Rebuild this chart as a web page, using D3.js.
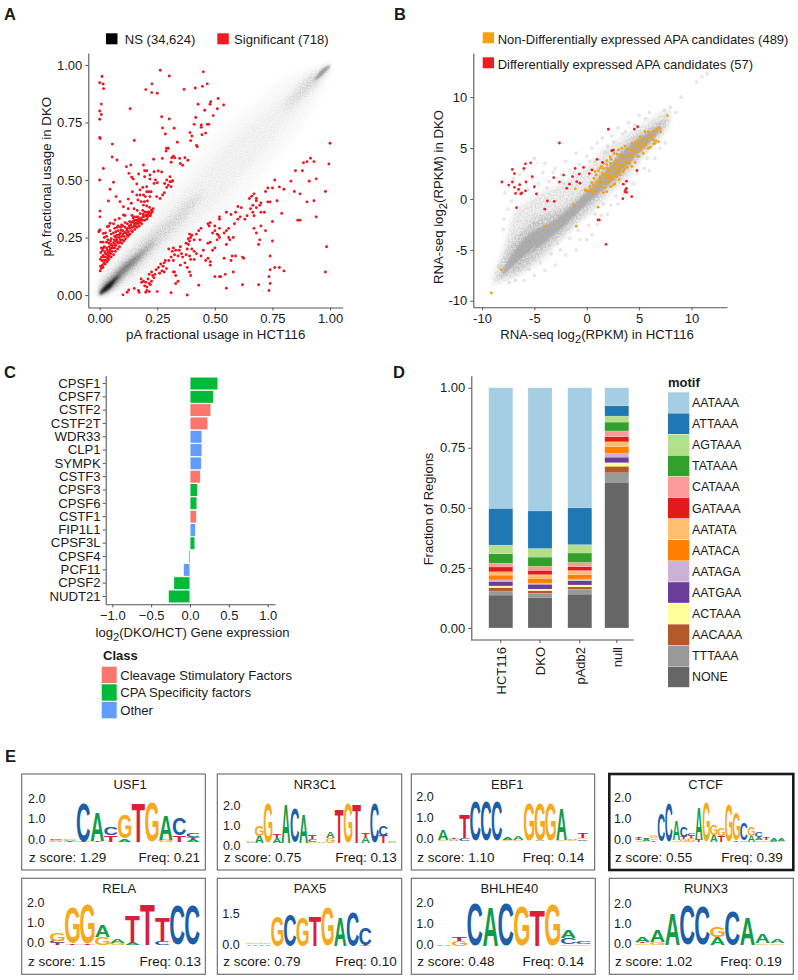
<!DOCTYPE html>
<html><head><meta charset="utf-8">
<script src="https://cdn.jsdelivr.net/npm/d3@7"></script>
<style>
html,body{margin:0;padding:0;background:#fff}
svg{display:block}
text{font-family:"Liberation Sans",Arial,sans-serif;fill:#1a1a1a}
</style></head><body>
<svg id="fig" width="798" height="980"></svg>
<script>
// ---------- DATA ----------
const aLegend = ["NS (34,624)", "Significant (718)"];
const aTicks = [0, .25, .5, .75, 1];
// density of non-significant sites, read as [x, lower y, upper y]
const aDensityOuter = [[0,0,.11],[.1,.01,.23],[.2,.06,.34],[.3,.14,.46],[.4,.22,.57],[.5,.31,.69],[.6,.4,.78],[.7,.51,.86],[.8,.64,.94],[.9,.76,.98],[1,.97,1]];
const aDensityMid = [[0,0,.08],[.1,.05,.18],[.2,.12,.28],[.3,.21,.38],[.4,.3,.49],[.5,.39,.6],[.6,.5,.7],[.7,.61,.78],[.8,.73,.87],[.9,.85,.95],[1,.98,1]];
const aDensityInner = [[0,0,.05],[.05,.02,.1],[.1,.06,.15],[.15,.1,.2],[.2,.16,.25],[.3,.26,.33],[.4,.37,.42],[.45,.44,.45]];
const aDensityCore = [[0,0,.02],[.02,.01,.045],[.05,.03,.075],[.08,.06,.105],[.1,.085,.125],[.15,.135,.165],[.2,.19,.205],[.24,.235,.24]];
const aDensityDark = [[0,0,.012],[.02,.012,.035],[.05,.035,.06],[.07,.065,.075],[.085,.083,.087]];
const aDensityTop = [[.8,.8,.81],[.85,.84,.88],[.9,.88,.94],[.95,.93,.97],[.98,.97,.995],[1,.995,1]];
const aDensityTopDark = [[.93,.93,.935],[.97,.96,.985],[1,.99,1]];
const aSignificant = [
[0,.923],[.01,.95],[.015,.917],[.017,.897],[.007,.83],[0,.8],[.007,.785],[0,.764],[0,.685],[.002,.68],[.132,.81],[.15,.672],[.055,.656],[.054,.6],[.075,.587],[.016,.55],[0,.5],[.06,.49],[.045,.46],
[.263,.977],[.302,.952],[.45,.97],[.227,.918],[.2,.893],[.226,.88],[.25,.877],[.366,.894],[.415,.9],[.446,.907],[.467,.918],
[.427,.829],[.514,.854],[.482,.84],[.479,.829],[.538,.826],[.511,.81],[.456,.803],[.417,.772],[.493,.78],[.269,.775],[.302,.765],[.273,.726],[.323,.725],[.285,.7],[.41,.742],[.441,.739],[.441,.729],[.467,.742],[.474,.742],[.46,.704],[.444,.697],[.392,.706],[.4,.691],[.395,.671],[.42,.65],[.424,.645],
[.337,.664],[.29,.638],[.298,.638],[.288,.626],[.272,.594],[.234,.59],[.32,.604],[.313,.597],[.326,.597],[.347,.594],[.37,.597],[.383,.586],[.35,.572],[.36,.564],[.31,.577],
[.116,.558],[.135,.565],[.19,.565],[.195,.54],[.204,.54],[.218,.522],[.236,.536],[.254,.539],[.269,.535],[.127,.529],[.139,.512],[.146,.504],[.169,.526],[.195,.514],[.218,.504],[.242,.5],[.236,.485],[.25,.488],[.305,.514],[.291,.5],[.282,.485],[.305,.493],[.312,.493],[.317,.497],[.298,.478],[.291,.468],[.31,.471],
[.161,.483],[.175,.457],[.187,.468],[.204,.471],[.204,.449],[.214,.449],[.223,.449],[.281,.445],[.273,.435],[.142,.449],[.161,.435],[.175,.435],[.19,.435],[.198,.428],[.218,.428],[.247,.428],[.262,.42],[.071,.428],[.038,.409],[.088,.406],[.124,.417],[.166,.413],[.18,.406],[.194,.406],[.207,.409],[.137,.399],[.103,.384],[.001,.365],[.001,.34],
[.19,.391],[.204,.387],[.216,.381],[.187,.368],[.195,.361],[.211,.361],[.226,.368],[.232,.375],[.163,.368],[.175,.354],[.149,.375],[.124,.375],[.11,.346],[.14,.346],[.15,.339],[.166,.339],[.19,.346],[.204,.346],[.222,.354],[.228,.361],
[.103,.348],[.067,.326],[.085,.333],[.045,.312],[.001,.283],[-.004,.275],[.033,.297],[.016,.268],
[.002,.105],[.004,.125],[.006,.115],[.012,.13],[.018,.14],[.01,.15],[.02,.15],[.003,.155],[.028,.15],[.025,.165],[.035,.16],[.042,.17],[.03,.178],[.015,.172],[.005,.185],[.012,.195],[.022,.188],[.038,.185],[.048,.18],[.055,.19],[.045,.198],[.03,.205],[.02,.21],[.058,.205],[.065,.205],[.07,.215],[.05,.22],[.04,.225],[.06,.228],[.08,.225],[.075,.24],[.068,.235],[.09,.24],[.085,.25],[.05,.245],[.065,.255],[.075,.26],[.095,.255],[.105,.255],[.1,.265],[.09,.27],[.08,.28],[.07,.275],[.06,.27],[.05,.265],[.045,.28],[.1,.28],[.115,.27],[.125,.275],[.12,.29],[.11,.295],[.1,.3],[.13,.29],[.14,.295],[.135,.305],[.15,.31],[.145,.32],[.155,.3],[.165,.31],[.16,.325],[.17,.33],[.175,.315],[.18,.335],[.19,.34],[.185,.325],[.2,.345],[.21,.35],[.22,.345],[.215,.36],[.2,.36],[.225,.37],[.16,.34],[.145,.335],[.13,.32],[.12,.31],[.11,.315],[.09,.295],[.08,.3],[.065,.29],[.035,.24],[.02,.25],[.03,.255],[.015,.23],[.005,.23],[.025,.27],[.04,.3],[.06,.31],[0,.28],
[.055,.215],[.063,.24],[.072,.25],[.085,.262],[.093,.282],[.108,.272],[.118,.282],[.128,.3],[.138,.315],[.152,.325],[.042,.21],[.033,.195],[.025,.18],[.047,.235],[.03,.23],[.008,.165],[.016,.205],[.007,.205],[.095,.305],[.075,.295],
[.014,.12],[.024,.135],[.033,.145],[.04,.155],[.05,.165],[.06,.175],[.068,.19],[.078,.2],[.086,.21],[.096,.225],[.105,.235],[.112,.245],[.122,.255],[.132,.265],[.142,.275],[.152,.285],[.162,.295],[.172,.3],[.182,.31],[.195,.325],[.205,.33],[.088,.23],[.098,.24],[.118,.262],[.128,.262],[.138,.28],[.148,.298],[.158,.312],[.168,.32],[.178,.325],[.188,.352],[.208,.34],[.018,.165],[.036,.172],[.044,.188],[.052,.205],[.066,.22],[.076,.232],
[.101,.001],[.119,.012],[.126,.022],[.15,.029],[.168,.02],[.171,.012],
[.18,.07],[.182,.055],[.19,.06],[.195,.04],[.2,.055],[.205,.035],[.21,.07],[.215,.05],[.22,.045],[.225,.06],[.23,.085],[.235,.075],[.24,.09],[.215,.09],[.205,.02],[.2,.012],[.215,.015],[.25,.015],
[.225,.1],[.245,.11],[.255,.12],[.26,.095],[.265,.135],[.27,.105],[.275,.125],[.28,.14],[.285,.15],[.28,.1],[.29,.115],[.3,.15],[.3,.2],[.315,.19],[.32,.205],[.31,.165],[.32,.15],[.325,.175],[.34,.17],[.345,.195],[.35,.21],[.33,.195],[.355,.18],[.36,.165],[.37,.14],[.38,.12],[.39,.1],[.395,.085],[.35,.13],[.32,.1],[.325,.1],[.33,.085],[.34,.06],[.33,.05],[.31,.01],[.38,0],[.43,.043],
[.375,.175],[.38,.2],[.385,.22],[.39,.235],[.395,.25],[.4,.26],[.41,.24],[.4,.2],[.41,.19],[.42,.18],[.395,.155],[.41,.155],[.39,.17],[.375,.225],[.385,.245],[.39,.265],[.42,.265],[.43,.28],[.44,.29],[.435,.24],[.44,.17],[.45,.195],[.475,.3],[.47,.31],[.48,.315],[.5,.3],[.5,.28],[.49,.27],[.52,.29],[.51,.265],[.515,.26],[.52,.25],[.51,.24],[.48,.23],[.47,.225],[.49,.195],[.5,.205],[.47,.16],[.46,.15],[.48,.145],[.48,.13],[.5,.08],[.52,.08],[.525,.08],[.545,.09],[.55,.03],[.62,.045],[.52,.33],[.52,.34],[.55,.36],[.56,.29],[.55,.22],[.56,.25],[.565,.24],[.54,.27],[.55,.28],[.58,.25],[.54,.16],[.57,.15],[.575,.17],[.59,.17],[.58,.1],[.62,.165],[.625,.16],
[.57,.35],[.59,.36],[.585,.31],[.6,.33],[.61,.34],[.6,.385],[.615,.38],[.63,.33],[.64,.345],[.655,.375],[.65,.42],[.66,.43],[.67,.44],[.68,.41],[.68,.42],[.665,.39],[.665,.36],[.67,.345],[.68,.38],[.695,.39],[.7,.4],[.7,.36],[.715,.36],[.73,.405],[.74,.405],[.72,.45],[.73,.465],[.75,.465],[.76,.5],[.78,.47],[.8,.46],[.77,.41],[.79,.355],[.75,.32],[.7,.3],[.72,.28],[.67,.29],[.68,.27],[.69,.22],[.695,.24],[.75,.235],[.74,.17],[.76,.12],[.78,.12],[.8,.105],[.74,.11],[.735,.08],[.74,.05],[.735,.02],[.69,.045],
[.83,.495],[.845,.45],[.85,.54],[.87,.44],[.88,.54],[.885,.575],[.9,.58],[.915,.595],[.93,.58],[.91,.495],[.94,.505],[.93,.41],[.9,.405],[.86,.325],[.87,.325],[.94,.34],[.98,.45],[.985,.21],[.98,.1],[.995,.57],[1,.66]
];

const bLegend = ["Non-Differentially expressed APA candidates (489)", "Differentially expressed APA candidates (57)"];
const bTicks = [-10, -5, 0, 5, 10];
const bDensityOuter = [[-9,-8.6,-7.6],[-8,-8,-5],[-7,-7.8,-1.5],[-6,-7.2,-.5],[-5,-6.5,.3],[-4,-5.8,.8],[-3,-4.6,1.2],[-2,-3.6,1.8],[-1,-2.6,2.5],[0,-1.8,3.2],[1,-.8,4.2],[2,.2,5.2],[3,1.2,5.8],[4,2.2,6.5],[5,3.5,7.2],[6,4.8,7.8],[7,6,8.4],[8,7.6,9]];
const bDensityMid = [[-8.5,-8.1,-7.6],[-8,-7.7,-6],[-7,-7.3,-4],[-6,-6.8,-3],[-5,-6,-2],[-4,-5,-1.6],[-3,-4.1,-1.2],[-2,-3.2,-.7],[-1,-2.1,.1],[0,-1.1,1],[1,-.1,2.3],[2,.9,3.6],[3,1.8,4.6],[4,3,5.6],[5,4.1,6.4],[6,5.2,7],[7,6.4,7.6],[7.7,7.4,8]];
const bDensityCore = [[-8,-7.4,-7],[-7,-6.6,-5.2],[-6,-5.7,-3.9],[-5,-5,-3.1],[-4,-4.3,-2.6],[-3,-3.4,-2],[-2,-2.5,-1.2],[-1,-1.5,-.3],[0,-.5,.7],[1,.4,1.8],[2,1.3,3],[3,2.2,4.2],[4,3.4,5.2],[5,4.5,6],[6,5.5,6.6],[7,6.7,7.3]];
const bStreaks = [[[-7.6,-7.2],[-4.9,-4.6]],[[-7,-7.2],[-4.6,-4.9]],[[-6.6,-7.2],[-4.4,-5.1]]];
const bFaint = [[-8,-3],[-7.5,-1],[-7.8,.6],[-7.9,-2],[-7,2],[-6.4,2.4],[-6,2.8],[-5,4],[-5.6,.9],[-4.6,1.5],[-4.2,2.6],[-4,3.5],[-3.6,1.7],[-3.2,2.6],[-3,3],[-2.4,2.4],[-2,3.7],[-1.6,2.8],[-1,4.5],[-.7,3.4],[0,4.2],[.3,3.7],[.5,5],[1,5.5],[1.5,6],[2,5.2],[2.4,6.2],[3,7],[3.4,6.4],[4,7.5],[5,8.2],[6,8.5],[7.4,8.7],[8,9],[8.5,8.5],[9,10],[10.5,11.5],[11,12],[11.5,12.3],[-6,-8],[-5,-7.5],[-4,-7],[-3,-6.5],[-2.5,-5],[-2,-5.5],[-1,-5],[-.6,-4],[0,-4],[.5,-3.5],[1,-2.5],[1.4,-1.6],[2,-1.5],[2.3,-.6],[3,-.5],[3.5,.5],[4,.6],[4.5,1.5],[5.5,3],[6,2.8],[6.5,4],[7.5,5.5],[-8.4,-6.6],[-7.4,-8.2],[-6.8,-8],[-5.5,-6.9],[-4.4,-6.3],[-3.4,-5.4],[-2.8,-4.4],[-1.6,-3.9],[-.8,-3.1],[.2,-2.6],[.8,-1.5],[1.6,-.5],[2.8,.3],[3.8,1.7],[4.8,2.5],[5.8,4],[7,5],[-7.2,-.2],[-6.6,.8],[-5.2,2],[-3.8,1.1],[-2.2,1.5],[-1.2,2.6],[.8,3.7],[1.8,4.6],[2.6,5.6],[3.7,6.6],[4.6,7.3],[5.6,7.9]];
const bOrange = [[-9.1,-9.23],[-8.15,-6.94],[-3.9,-2.65],[-1,-2.68],[1.1,-.8],[-1.3,-.5],[-1.08,1],[7.7,8.18],
[-.16,.88],[0,.82],[.16,.72],[.32,1.21],[.48,1.6],[.7,2.03],[.89,2.36],[1.11,2.78],[1.27,3.01],[1.59,3.5],[1.91,3.76],[2.23,4.16],[2.61,4.48],[3.03,4.81],[3.34,4.98],[3.66,5.2],[4.3,5.47],[4.94,5.79],[5.57,6.61],[5.89,6.61],[6.37,6.61],[6.05,6.28],[6.53,5.47],[6.85,5.63],[5.89,4.98],[5.41,4.48],[4.94,4.16],[4.62,3.57],[4.3,3.18],[3.5,2.68],[3.18,2.36],[2.87,2.19],[2.55,1.37],[1.91,.72],[1.59,.62],[.96,.72],[.57,.56],
[.32,.88],[1.27,2.03],[1.59,2.52],[1.91,2.36],[2.07,2.03],[2.23,2.85],[2.61,3.01],[3.03,2.85],[3.34,3.34],[3.66,3.83],[3.98,4.32],[4.46,4.81],[4.94,5.14],[5.25,5.47],[5.41,5.96],[5.1,6.12],[4.62,5.3],[4.14,4.81],[3.5,4.16],[3.18,3.83],[2.71,3.5],[2.29,3.5],[1.91,3.01],[1.59,3.01],[1.27,2.19],[.96,1.7],[.64,1.37],[.96,1.21],[1.43,1.21],[1.75,1.6],[2.07,1.7],[2.39,2.19],[2.71,2.52],[3.18,3.01],[3.5,3.18],[3.82,3.5],[4.14,3.83],[4.3,4.16],[4.78,4.65],[5.1,4.81],[5.41,5.14],[5.73,5.63],[5.89,5.96],[6.21,6.12],[6.69,6.84],[7.01,6.94],[7.07,6.61],[6.37,5.79],
[2,2.4],[2.2,2.2],[2.1,2.7],[2.4,1.9],[1.8,2.1],[1.5,2.4],[1.3,1.7],[2.9,2.6],[3,3.3],[2.5,3.2],[2.8,3.8],[3.2,4.3],[3.9,3.1],[3.6,2.9],[3.1,1.9],[2.7,1.5],[5.2,5],[5.6,5.3],[6.1,5.1],[6.4,5.4],[6.6,5.7],[4.4,4.4],[4.1,3.5],[3.9,4.9],[4.7,5.6],[.4,.9],[.7,.8],[1.1,1.5],[1.7,1.1],[2.3,1.2],[2.3,3.9],[1.9,3.4],[1.4,3.2],[.8,2.7],[2.9,4.4]];
const bRed = [[-8.1,1.67],[-7.1,2.9],[-6.9,2.5],[-7.1,1.67],[-7.45,1.37],[-6.9,1.15],[-6.5,.95],[-6.8,.55],[-6.3,.5],[-6.2,.6],[-5.85,.8],[-6.4,1.4],[-5.8,1.67],[-5,1.2],[-5.2,2.2],[-6,3],[-5.85,3.45],[-5.35,3.55],[-4.8,.5],[-6.7,-.85],[-3.75,-.2],[-3.1,-.23],[-4,-1],[-3.15,2.1],[-2.6,1.67],[-2.2,2.35],[-2.6,5.5],[-1.9,1.05],[-1.65,1.45],[-1.35,2.2],[-1.1,3],[-.95,1.7],[-.65,1.55],[-.7,2.45],[-.3,3.1],[.25,2.5],[.5,2.85],[1,3.9],[1.5,3.6],[2.07,6.85],[2.4,4.75],[2.55,4.8],[4.55,6.87],[4.87,7.1],[4.8,2.8],[3.8,1.75],[3.5,1.45],[3.8,1.05],[3.7,.9],[3.65,.7],[3.8,.65],[3.45,.03],[4.3,.23],[1.08,-2.06],[1.2,-2.06],[1.85,-4.45]];

const cGenes = ["CPSF1","CPSF7","CSTF2","CSTF2T","WDR33","CLP1","SYMPK","CSTF3","CPSF3","CPSF6","CSTF1","FIP1L1","CPSF3L","CPSF4","PCF11","CPSF2","NUDT21"];
const cValues = [.36,.305,.27,.231,.155,.155,.15,.137,.098,.09,.086,.073,.064,-.02,-.086,-.21,-.28];
const cClasses = ["CPA","CPA","CSF","CSF","Other","Other","Other","CSF","CPA","CPA","CSF","Other","CPA","CPA","Other","CPA","CPA"];
const cTicks = [-1, -.5, 0, .5, 1];
const cClassKeys = ["CSF","CPA","Other"];
const cClassLabels = ["Cleavage Stimulatory Factors","CPA Specificity factors","Other"];
const cClassColours = ["#f8766d","#00ba38","#619cff"];

const dSamples = ["HCT116","DKO","pAdb2","null"];
const dMotifs = ["AATAAA","ATTAAA","AGTAAA","TATAAA","CATAAA","GATAAA","AATATA","AATACA","AATAGA","AATGAA","ACTAAA","AACAAA","TTTAAA","NONE"];
const dColours = ["#A6CEE3","#1F78B4","#B2DF8A","#33A02C","#FB9A99","#E31A1C","#FDBF6F","#FF7F00","#CAB2D6","#6A3D9A","#FFFF99","#B15928","#999999","#666666"];
const dNONE=[.137,.128,.141,.607], dTTTAAA=[.017,.016,.020,.039], dAACAAA=[.014,.011,.010,.027], dACTAAA=[.007,.007,.008,.015],
      dAATGAA=[.019,.020,.018,.023], dAATAGA=[.006,.005,.007,.017], dAATACA=[.020,.020,.018,.027], dAATATA=[.014,.015,.017,.020],
      dGATAAA=[.020,.018,.016,.021], dCATAAA=[.016,.017,.018,.024], dTATAAA=[.039,.038,.039,.037], dAGTAAA=[.036,.036,.035,.025],
      dATTAAA=[.153,.156,.154,.043], dAATAAA=[.502,.513,.499,.075];
const dFractions = {AATAAA:dAATAAA,ATTAAA:dATTAAA,AGTAAA:dAGTAAA,TATAAA:dTATAAA,CATAAA:dCATAAA,GATAAA:dGATAAA,AATATA:dAATATA,AATACA:dAATACA,AATAGA:dAATAGA,AATGAA:dAATGAA,ACTAAA:dACTAAA,AACAAA:dAACAAA,TTTAAA:dTTTAAA,NONE:dNONE};
const dTicks = [0,.25,.5,.75,1];

const logoUSF1 = [[["A",.05],["G",.05],["C",.05]],[["T",.05],["A",.05],["G",.05]],[["T",.03],["C",1.9]],[["T",.03],["A",1.42]],[["T",.33],["C",.42]],[["A",.15],["G",1.2]],[["T",1.95]],[["G",1.95]],[["G",.1],["A",1.25]],[["T",.33],["C",.88]],[["A",.1],["T",.13],["C",.22]]];
const logoNR3C1 = [[["A",.05],["G",.05]],[["A",.35],["G",.5]],[["G",1.95]],[["A",.25],["T",.2]],[["A",1.95]],[["C",1.7]],[["A",1.45]],[["G",.05],["C",.15],["T",.2]],[["A",.03]],[["G",.25],["A",.3]],[["T",1.7]],[["G",2]],[["T",1.95]],[["A",.3],["T",.2]],[["C",1.95]],[["T",.35],["C",.5]],[["G",.03],["A",.03]]];
const logoEBF1 = [[["G",.05],["A",.5]],[["A",.04],["G",.04],["T",.04]],[["C",.15],["T",1.15]],[["C",1.95]],[["C",1.95]],[["C",1.95]],[["G",.04],["A",.13]],[["G",.05],["A",.18]],[["G",1.85]],[["A",.03],["G",1.87]],[["G",1.85]],[["G",.03],["A",1.55]],[["G",.05],["A",.08]],[["C",.08],["G",.05],["T",.25]]];
const logoCTCF = [[["A",.06],["C",.05],["T",.15]],[["G",.05],["A",.1],["C",.05]],[["T",.08],["A",.08],["G",.12]],[["C",1.4]],[["C",1.9]],[["G",.08],["A",.95]],[["G",.15],["T",.1],["C",.55]],[["G",.2],["T",.1],["C",.15]],[["T",.1],["A",1.6]],[["G",1.95]],[["A",.35],["G",.55]],[["T",.3],["G",.4]],[["G",1.85]],[["T",.06],["G",1.4]],[["A",.08],["C",.85]],[["A",.3],["G",.45]],[["G",.08],["A",.15],["C",.25]],[["G",.08],["T",.12]],[["C",.06],["A",.12]],[["G",.05],["A",.12]]];
const logoRELA = [[["T",.1],["C",.1],["G",.35]],[["T",.07],["G",1.75]],[["T",.05],["G",1.95]],[["G",.4],["A",.55]],[["G",.12],["A",.2]],[["A",.1],["T",1.35]],[["T",1.95]],[["C",.2],["T",1.15]],[["C",1.95]],[["C",1.95]]];
const logoPAX5 = [[["A",.08],["G",.08]],[["A",.08],["G",.03]],[["G",1.45]],[["C",1.5]],[["G",1.4]],[["T",1.45]],[["G",1.87]],[["A",1.4]],[["C",1.65]],[["T",.05],["C",.8]],[],[]];
const logoBHLHE40 = [[["A",.03]],[["G",.25],["T",.2]],[["C",2]],[["A",1.9]],[["C",2]],[["G",1.9]],[["T",1.7]],[["G",2]],[["G",.08],["C",.3],["A",.35]],[["G",.08],["C",.15]]];
const logoRUNX3 = [[["G",.08],["T",.05],["A",.22]],[["G",.15],["A",.55]],[["A",1.5]],[["C",1.95]],[["C",1.85]],[["A",.4],["G",.5]],[["C",1.7]],[["A",1.35]],[["G",.08],["A",.42]],[["G",.08],["A",.17]]];
const logoNames = ["USF1","NR3C1","EBF1","CTCF","RELA","PAX5","BHLHE40","RUNX3"];
const logoZ = ["1.29","0.75","1.10","0.55","1.15","0.79","0.48","1.02"];
const logoFreq = ["0.21","0.13","0.14","0.39","0.13","0.10","0.14","0.19"];
const logoData = [logoUSF1,logoNR3C1,logoEBF1,logoCTCF,logoRELA,logoPAX5,logoBHLHE40,logoRUNX3];
const logoTicks = [[2,1,0],[2,1,0],[2,1,0],[2,1,0],[2,1,0],[1.5,0],[2,1,0],[2,1,0]];
const letterColour = {A:"#0f9d48",C:"#1c5fa8",G:"#f6a91e",T:"#d8203a"};

// ---------- LAYOUT ----------
const svg = d3.select("#fig");
const FONT = '"Liberation Sans",Arial,sans-serif';
const defs = svg.append("defs");
[["blurS",1.2],["blurM",2.4]].forEach(([id,s])=>{
  defs.append("filter").attr("id",id).attr("x","-20%").attr("y","-20%").attr("width","140%").attr("height","140%")
    .append("feGaussianBlur").attr("stdDeviation",s);
});
// soft edge plus a fine grain, as the source's over-plotted dots give
[["grainA",3.4,.8,1.5,-.15,5],["grainB",2.4,.6,1.7,-.2,9]].forEach(([id,s,fq,k,o,seed])=>{
  const f=defs.append("filter").attr("id",id).attr("x","-20%").attr("y","-20%").attr("width","140%").attr("height","140%").attr("color-interpolation-filters","sRGB");
  f.append("feGaussianBlur").attr("in","SourceGraphic").attr("stdDeviation",s).attr("result","b");
  f.append("feTurbulence").attr("type","fractalNoise").attr("baseFrequency",fq).attr("numOctaves",1).attr("seed",seed).attr("result","n");
  f.append("feColorMatrix").attr("in","n").attr("type","matrix").attr("values",`0 0 0 0 0  0 0 0 0 0  0 0 0 0 0  ${k} 0 0 0 ${o}`).attr("result","g");
  f.append("feComposite").attr("in","b").attr("in2","g").attr("operator","in");
});
function label(g,x,y,t,o={}){
  return g.append("text").attr("x",x).attr("y",y).attr("font-size",o.size||13)
    .attr("text-anchor",o.anchor||"start").attr("font-weight",o.weight||"normal").text(t);
}
function panelLetter(l,x,y){ label(svg,x,y,l,{size:16.5,weight:"bold"}); }
function styleAxis(g,size){
  g.attr("font-family",FONT).attr("font-size",size);
  g.selectAll(".domain").attr("stroke","#555").attr("stroke-width",1.1);
  g.selectAll(".tick line").attr("stroke","#555");
  g.selectAll(".tick text").attr("fill","#1a1a1a");
}
function band(g,data,x,y,fill,op,filter){
  const a = d3.area().x(d=>x(d[0])).y0(d=>y(d[1])).y1(d=>y(d[2])).curve(d3.curveMonotoneX);
  g.append("path").attr("d",a(data)).attr("fill",fill).attr("fill-opacity",op).attr("filter",`url(#${filter})`);
}
function dots(g,data,x,y,fill,r){
  g.append("g").selectAll("circle").data(data).join("circle")
    .attr("cx",d=>x(d[0])).attr("cy",d=>y(d[1])).attr("r",r).attr("fill",fill);
}
function xTitleSub(g,x,y,pre,sub,post,size,rot){
  const t=g.append("text").attr("font-size",size).attr("text-anchor","middle")
    .attr("transform",`translate(${x},${y})`+(rot?" rotate(-90)":""));
  t.append("tspan").text(pre);
  t.append("tspan").attr("dy",size*.3).attr("font-size",size*.85).text(sub);
  t.append("tspan").attr("dy",-size*.3).text(post);
}

// ---------- A ----------
panelLetter("A",4,20);
{
  const x=d3.scaleLinear().domain([-.0495,1.055]).range([88.3,342.7]);
  const y=d3.scaleLinear().domain([-.054,1.052]).range([307.5,53]);
  const g=svg.append("g");
  band(g,aDensityOuter,x,y,"#000",.045,"grainA");
  band(g,aDensityMid,x,y,"#000",.05,"grainA");
  band(g,aDensityInner,x,y,"#000",.16,"grainA");
  band(g,aDensityCore,x,y,"#000",.5,"blurM");
  band(g,aDensityDark,x,y,"#000",.8,"blurS");
  band(g,aDensityTop,x,y,"#000",.16,"grainA");
  band(g,aDensityTopDark,x,y,"#000",.35,"blurS");
  dots(g,aSignificant,x,y,"#f0141e",1.45);
  const ax=g.append("g").attr("transform","translate(0,307.5)").call(d3.axisBottom(x).tickValues(aTicks).tickFormat(d3.format(".2f")).tickSize(3).tickPadding(3).tickSizeOuter(0));
  styleAxis(ax,13);
  const ay=g.append("g").attr("transform","translate(88.3,0)").call(d3.axisLeft(y).tickValues(aTicks).tickFormat(d3.format(".2f")).tickSize(3).tickPadding(3).tickSizeOuter(0));
  styleAxis(ay,13);
  label(g,215.7,339,"pA fractional usage in HCT116",{anchor:"middle",size:13.3});
  g.append("text").attr("font-size",13.3).attr("text-anchor","middle").attr("transform","translate(51,176.7) rotate(-90)").text("pA fractional usage in DKO");
  g.append("rect").attr("x",106).attr("y",33.3).attr("width",11.5).attr("height",11).attr("fill","#000");
  label(g,124.7,43.5,aLegend[0],{size:13.1});
  g.append("rect").attr("x",217.3).attr("y",33.3).attr("width",11.5).attr("height",11).attr("fill","#ed1c24");
  label(g,234,43.5,aLegend[1],{size:13.1});
}

// ---------- B ----------
panelLetter("B",394,20);
{
  const x=d3.scaleLinear().domain([-10.83,13.4]).range([473.3,727]);
  const y=d3.scaleLinear().domain([-10.64,14.34]).range([307.3,53]);
  const g=svg.append("g");
  dots(g,bFaint,x,y,"#e8e8e8",1.9);
  band(g,bDensityOuter,x,y,"#c4c4c4",.6,"grainB");
  band(g,bDensityMid,x,y,"#b0b0b0",.8,"grainB");
  band(g,bDensityCore,x,y,"#a4a4a4",.8,"blurS");
  const line=d3.line().x(d=>x(d[0])).y(d=>y(d[1]));
  g.append("g").selectAll("path").data(bStreaks).join("path").attr("d",line).attr("stroke","#d0d0d0").attr("stroke-width",.8).attr("fill","none");
  dots(g,bOrange,x,y,"#f5a00f",1.4);
  dots(g,bRed,x,y,"#ed1c24",1.4);
  const ax=g.append("g").attr("transform","translate(0,307.3)").call(d3.axisBottom(x).tickValues(bTicks).tickFormat(d3.format("d")).tickSize(3).tickPadding(3).tickSizeOuter(0));
  styleAxis(ax,13);
  ax.selectAll(".tick text").text(d=>String(d));
  const ay=g.append("g").attr("transform","translate(473.3,0)").call(d3.axisLeft(y).tickValues(bTicks).tickFormat(d3.format("d")).tickSize(3).tickPadding(3).tickSizeOuter(0));
  styleAxis(ay,13);
  ay.selectAll(".tick text").text(d=>String(d));
  xTitleSub(g,597,339,"RNA-seq log","2","(RPKM) in HCT116",13.2,false);
  xTitleSub(g,443,197,"RNA-seq log","2","(RPKM) in DKO",13.2,true);
  g.append("rect").attr("x",482.7).attr("y",32.3).attr("width",11.3).attr("height",11).attr("fill","#f5a00f");
  label(g,497.7,43.5,bLegend[0],{size:13});
  g.append("rect").attr("x",482.7).attr("y",57.3).attr("width",11.3).attr("height",11).attr("fill","#ed1c24");
  label(g,497.7,68.5,bLegend[1],{size:13});
}

// ---------- C ----------
panelLetter("C",4,378);
{
  const x=d3.scaleLinear().domain([-1.085,1.094]).range([105.7,275]);
  const y=d3.scaleBand().domain(cGenes).range([375.7,604.3]).paddingInner(.03).paddingOuter(.1025);
  const colour=d3.scaleOrdinal().domain(cClassKeys).range(cClassColours);
  const g=svg.append("g");
  g.append("g").selectAll("rect").data(cGenes).join("rect")
    .attr("x",(d,i)=>x(Math.min(0,cValues[i]))).attr("y",d=>y(d))
    .attr("width",(d,i)=>Math.abs(x(cValues[i])-x(0))).attr("height",y.bandwidth())
    .attr("fill",(d,i)=>colour(cClasses[i])).attr("stroke","#fff").attr("stroke-width",.9);
  const ax=g.append("g").attr("transform","translate(0,604.3)").call(d3.axisBottom(x).tickValues(cTicks).tickFormat(d3.format(".1f")).tickSize(3).tickPadding(3).tickSizeOuter(0));
  styleAxis(ax,13);
  const ay=g.append("g").attr("transform","translate(105.7,0)").call(d3.axisLeft(y).tickSize(3).tickPadding(2).tickSizeOuter(0));
  styleAxis(ay,13.2);
  xTitleSub(g,192.5,636.7,"log","2","(DKO/HCT) Gene expression",13.1,false);
  label(g,103,660,"Class",{weight:"bold",size:13});
  const lg=g.append("g").selectAll("g").data(cClassKeys).join("g").attr("transform",(d,i)=>`translate(101.7,${666.7+i*17.6})`);
  lg.append("rect").attr("width",15).attr("height",16.4).attr("fill",d=>colour(d));
  lg.append("text").attr("x",18.5).attr("y",13).attr("font-size",13.1).text((d,i)=>cClassLabels[i]);
}

// ---------- D ----------
panelLetter("D",393,378);
{
  const x=d3.scaleOrdinal().domain(dSamples).range([500.8,540,579.8,616.8]);
  const barW=24;
  const y=d3.scaleLinear().domain([-.05,1.05]).range([640,375.7]);
  const g=svg.append("g");
  const table=dSamples.map((s,i)=>{const o={sample:s};dMotifs.forEach(m=>o[m]=dFractions[m][i]);return o;});
  const stack=d3.stack().keys(dMotifs.slice().reverse())(table);
  const colour=d3.scaleOrdinal().domain(dMotifs).range(dColours);
  g.append("g").selectAll("g").data(stack).join("g").attr("fill",d=>colour(d.key))
    .selectAll("rect").data(d=>d).join("rect")
    .attr("x",d=>x(d.data.sample)-barW/2).attr("width",barW)
    .attr("y",d=>y(d[1])).attr("height",d=>y(d[0])-y(d[1]))
    .attr("stroke","#fff").attr("stroke-opacity",.35).attr("stroke-width",.4);
  const ay=g.append("g").attr("transform","translate(471.3,0)").call(d3.axisLeft(y).tickValues(dTicks).tickFormat(d3.format(".2f")).tickSize(3).tickPadding(3).tickSizeOuter(0));
  styleAxis(ay,13);
  const axis=g.append("g");
  axis.append("line").attr("x1",471.3).attr("x2",634).attr("y1",640).attr("y2",640).attr("stroke","#555").attr("stroke-width",1.1);
  const tk=axis.selectAll("g").data(dSamples).join("g").attr("transform",d=>`translate(${x(d)},640)`);
  tk.append("line").attr("y2",3).attr("stroke","#555");
  tk.append("text").attr("transform","translate(4.7,7) rotate(-90)").attr("text-anchor","end").attr("font-size",13).text(d=>d);
  g.append("text").attr("font-size",13).attr("text-anchor","middle").attr("transform","translate(433,509) rotate(-90)").text("Fraction of Regions");
  label(g,668,387,"motif",{weight:"bold",size:13});
  const lg=g.append("g").selectAll("g").data(dMotifs).join("g").attr("transform",(d,i)=>`translate(668,${392.3+i*21.1})`);
  lg.append("rect").attr("width",21.3).attr("height",20.6).attr("fill",d=>colour(d));
  lg.append("text").attr("x",24).attr("y",14.8).attr("font-size",12.4).text(d=>d);
}

// ---------- E ----------
panelLetter("E",5,762);
{
  const ctx=document.createElement("canvas").getContext("2d");
  ctx.font=`bold 100px "Liberation Sans"`;
  const ink={};
  "ACGT".split("").forEach(l=>{const m=ctx.measureText(l);
    ink[l]={l:-m.actualBoundingBoxLeft,r:m.actualBoundingBoxRight,t:m.actualBoundingBoxAscent,b:m.actualBoundingBoxDescent};});
  const boxes=[
   {bx:21.7,by:774,bw:183.6,tx:130,zx:29,fx:200,x0:49.3,x1:200,base:841.7,bit:20,lab0:839.3,pitch:20.5,row:0},
   {bx:217.3,by:774,bw:184.4,tx:315,zx:224,fx:396.7,x0:246,x1:396.7,base:842.7,bit:20,lab0:845,pitch:20,row:0},
   {bx:411.3,by:774,bw:183.4,tx:507.3,zx:417.3,fx:584.3,x0:437.7,x1:588.3,base:841,bit:20,lab0:838.3,pitch:20.7,row:0},
   {bx:609.3,by:774,bw:184,tx:705.7,zx:615,fx:782.7,x0:635,x1:785,base:841.7,bit:20,lab0:839.3,pitch:20.7,row:0,bold:true},
   {bx:21.7,by:878.3,bw:183.6,tx:119.3,zx:28,fx:201,x0:50,x1:200,base:945,bit:20.3,lab0:942.3,pitch:20,row:1},
   {bx:217.3,by:878.3,bw:184.4,tx:310,zx:223.3,fx:396.7,x0:246,x1:396.7,base:946,bit:20.7,lab0:944.3,pitch:20.7,row:1},
   {bx:411.3,by:878.3,bw:184,tx:509.3,zx:417.3,fx:584,x0:436,x1:591.7,base:946,bit:20.7,lab0:944.3,pitch:21,row:1},
   {bx:609.3,by:878.3,bw:184,tx:706,zx:615,fx:781.7,x0:635,x1:785,base:945,bit:20.3,lab0:943.3,pitch:20,row:1}
  ];
  boxes.forEach((b,k)=>{
    const g=svg.append("g");
    g.append("rect").attr("x",b.bx).attr("y",b.by).attr("width",b.bw).attr("height",96).attr("fill","none")
      .attr("stroke",b.bold?"#1a1a1a":"#666").attr("stroke-width",b.bold?2.6:1.1);
    label(g,b.tx,b.by+14.8,logoNames[k],{anchor:"middle",size:13});
    const yt=d3.scaleLinear().domain([0,1]).range([b.lab0,b.lab0-b.pitch]);
    logoTicks[k].forEach(t=>{
      label(g,b.zx-1,yt(t)+4.5,d3.format(".1f")(t),{size:12.5});
    });
    label(g,b.zx,b.by+(b.row?87.3:88),"z score: "+logoZ[k],{size:13.5});
    label(g,b.fx,b.by+(b.row?87.3:88),"Freq: "+logoFreq[k],{anchor:"end",size:13.5});
    const x=d3.scaleBand().domain(d3.range(logoData[k].length)).range([b.x0,b.x1]);
    const y=d3.scaleLinear().domain([0,1]).range([b.base,b.base-b.bit]);
    logoData[k].forEach((stack,i)=>{
      let c=0;
      stack.forEach(([ltr,h])=>{
        const m=ink[ltr];
        const sx=(x.bandwidth()*.97)/(m.r-m.l);
        const sy=(y(c)-y(c+h))/(m.t+m.b);
        g.append("text").attr("font-weight","bold").attr("font-size",100).style("fill",letterColour[ltr])
          .attr("transform",`translate(${x(i)+x.bandwidth()*.015-m.l*sx},${y(c)-m.b*sy}) scale(${sx},${sy})`).text(ltr);
        c+=h;
      });
    });
  });
}
</script>
</body></html>
